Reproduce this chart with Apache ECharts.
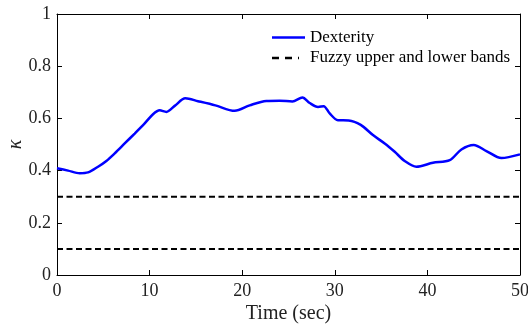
<!DOCTYPE html>
<html>
<head>
<meta charset="utf-8">
<script src="https://cdn.jsdelivr.net/npm/echarts@6/dist/echarts.min.js"></script>
<style>html,body{margin:0;padding:0;background:#fff;}#c{width:528px;height:326px;}</style>
</head>
<body>
<div id="c"></div>
<script>
var time = [0, 1.2, 2.45, 3.35, 4.43, 5.33, 6.23, 7.31, 8.39, 9.47, 10.37, 11.09, 11.81, 12.71, 13.86, 15.23, 17.1, 19.19, 20.81, 22.61, 24.05, 25.42, 26.5, 27.29, 28.19, 28.8, 29.45, 30.34, 31.5, 32.8, 34.12, 35.39, 36.47, 37.55, 38.81, 40.6, 42.41, 43.67, 45.0, 46.37, 47.99, 50];
var dexterity = [0.409, 0.4, 0.39, 0.393, 0.415, 0.437, 0.466, 0.504, 0.542, 0.581, 0.616, 0.631, 0.625, 0.648, 0.677, 0.666, 0.650, 0.629, 0.650, 0.667, 0.668, 0.665, 0.680, 0.659, 0.644, 0.647, 0.619, 0.593, 0.592, 0.575, 0.536, 0.504, 0.472, 0.437, 0.415, 0.430, 0.440, 0.481, 0.498, 0.475, 0.448, 0.462];
var bandTime = [0, 50];
var upperBand = [0.3, 0.3];
var lowerBand = [0.1, 0.1];
var xTicks = [0, 10, 20, 30, 40, 50];
var yTicks = [0, 0.2, 0.4, 0.6, 0.8, 1];

function pairs(xs, ys) { return xs.map(function (x, i) { return [x, ys[i]]; }); }

var font = 'Liberation Serif';
var axisCommon = {
  type: 'value',
  axisLine: { show: true, onZero: false, lineStyle: { color: '#000', width: 1 } },
  axisTick: { show: true, inside: true, length: 5, lineStyle: { color: '#000', width: 1 } },
  splitLine: { show: false }
};
var chart = echarts.init(document.getElementById('c'), null, { renderer: 'canvas' });
chart.setOption({
  animation: false,
  backgroundColor: '#fff',
  grid: { left: 57, right: 8, top: 14, bottom: 51, containLabel: false, outerBoundsMode: 'none' },
  legend: {
    orient: 'vertical', left: 272, top: 29, padding: 0, itemWidth: 33, itemHeight: 2.5, itemGap: 3.5,
    symbolKeepAspect: false,
    textStyle: { fontFamily: font, fontSize: 17, color: '#000' },
    data: [
      { name: 'Dexterity', icon: 'path://M0,0h33v2.5h-33z' },
      { name: 'Fuzzy upper and lower bands', icon: 'path://M0,0h7v2.5h-7z M13,0h7v2.5h-7z M26,0h1v2.5h-1z M33,0h0v2.5h0z' }
    ]
  },
  xAxis: [
    Object.assign({}, axisCommon, {
      position: 'bottom', min: xTicks[0], max: xTicks[xTicks.length - 1], interval: 10,
      axisLabel: { show: true, margin: 7, fontFamily: font, fontSize: 18, color: '#222' },
      name: 'Time (sec)', nameLocation: 'middle', nameGap: 29, nameMoveOverlap: false,
      nameTextStyle: { fontFamily: font, fontSize: 20, color: '#222' }
    }),
    Object.assign({}, axisCommon, {
      position: 'top', min: xTicks[0], max: xTicks[xTicks.length - 1], interval: 10,
      axisLabel: { show: false }
    })
  ],
  yAxis: [
    Object.assign({}, axisCommon, {
      position: 'left', min: yTicks[0], max: yTicks[yTicks.length - 1], interval: 0.2,
      axisLabel: { show: true, margin: 6, fontFamily: font, fontSize: 18, color: '#222' },
      name: 'κ', nameLocation: 'middle', nameGap: 31, nameRotate: 90, nameMoveOverlap: false,
      nameTextStyle: { fontFamily: font, fontSize: 20, fontStyle: 'italic', color: '#222' }
    }),
    Object.assign({}, axisCommon, {
      position: 'right', min: yTicks[0], max: yTicks[yTicks.length - 1], interval: 0.2,
      axisLabel: { show: false }
    })
  ],
  series: [
    { name: 'Dexterity', type: 'line', data: pairs(time, dexterity), symbol: 'none', smooth: 0.3,
      lineStyle: { color: '#0000ff', width: 2.5 }, itemStyle: { color: '#0000ff' } },
    { name: 'Fuzzy upper and lower bands', type: 'line', data: pairs(bandTime, upperBand), symbol: 'none',
      lineStyle: { color: '#000', width: 2, type: [6, 3.5] }, itemStyle: { color: '#000' } },
    { name: 'Fuzzy upper and lower bands', type: 'line', data: pairs(bandTime, lowerBand), symbol: 'none',
      lineStyle: { color: '#000', width: 2, type: [6, 3.5] }, itemStyle: { color: '#000' } }
  ]
});
</script>
</body>
</html>
